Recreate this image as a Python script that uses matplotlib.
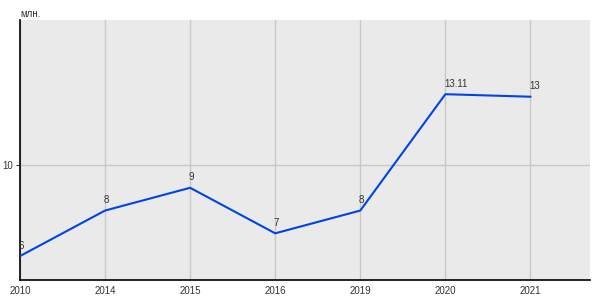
import matplotlib
matplotlib.use("Agg")
import matplotlib.pyplot as plt

plt.rcParams['font.family'] = ['Liberation Sans', 'DejaVu Sans']

years = ["2010", "2014", "2015", "2016", "2019", "2020", "2021"]
values = [6, 8, 9, 7, 8, 13.11, 13]
labels = ["6", "8", "9", "7", "8", "13.11", "13"]

fig = plt.figure(figsize=(6, 3), dpi=100)
ax = fig.add_axes([0.0333, 0.0667, 0.95, 0.8667])
ax.set_facecolor("#eaeaea")

x = list(range(len(years)))
ax.plot(x, values, color="#0044e6", linewidth=1.5, zorder=3)

for xi, v, lab in zip(x, values, labels):
    ax.annotate(lab, (xi, v), xytext=(-1, 4), textcoords="offset points",
                ha="left", va="bottom", fontsize=7, color="#333333", zorder=4)

ax.set_xlim(0, 6.7)
ax.set_ylim(4.95, 16.37)
ax.set_xticks(x)
ax.set_xticklabels(years)
ax.set_yticks([10])
ax.tick_params(axis="x", length=0, labelsize=7, pad=4, colors="#333333")
ax.tick_params(axis="y", length=3, labelsize=7, pad=2, colors="#333333")
ax.tick_params(axis="both", labelcolor="#333333")
ax.grid(True, color="#c8c8c8", linewidth=1)
ax.set_axisbelow(True)

for s in ["top", "right"]:
    ax.spines[s].set_visible(False)
ax.spines["left"].set_color("black")
ax.spines["bottom"].set_color("black")
ax.spines["left"].set_linewidth(1.2)
ax.spines["bottom"].set_linewidth(1.2)

fig.text(20 / 600, 1 - 14 / 300, "млн.", fontsize=7, color="#333333", ha="left", va="center")

fig.savefig("out.png", dpi=100)
